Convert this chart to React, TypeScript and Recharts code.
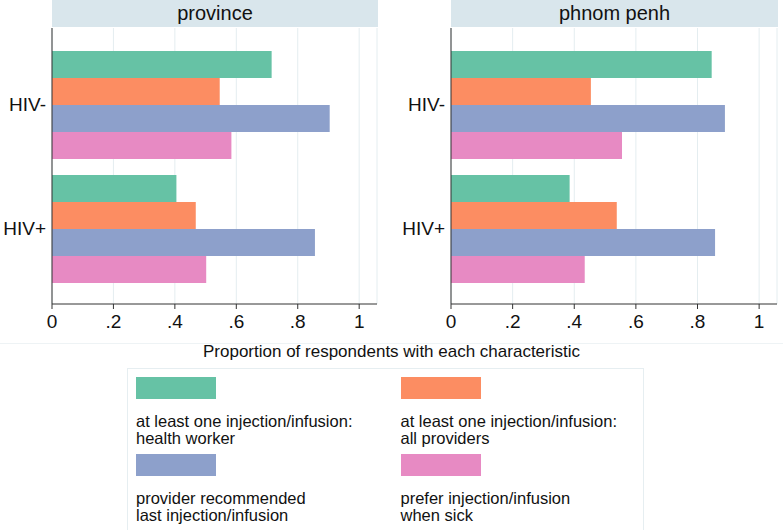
import { BarChart, Bar, XAxis, YAxis, CartesianGrid } from "recharts"

const groups = ["HIV-", "HIV+"]

const seriesKeys = ["hwInj", "allInj", "recommended", "prefer"]
const seriesLabels = [
  ["at least one injection/infusion:", "health worker"],
  ["at least one injection/infusion:", "all providers"],
  ["provider recommended", "last injection/infusion"],
  ["prefer injection/infusion", "when sick"],
]
const seriesColors = ["#66c2a5", "#fc8d62", "#8da0cb", "#e78ac3"]

const provinceVals = [
  [0.715, 0.546, 0.904, 0.584],
  [0.405, 0.468, 0.856, 0.502],
]
const phnomPenhVals = [
  [0.846, 0.454, 0.889, 0.555],
  [0.385, 0.538, 0.857, 0.434],
]

const xTicks = [0, 0.2, 0.4, 0.6, 0.8, 1]

const FONT = "'Liberation Sans', Arial, Helvetica, sans-serif"

function toRows(vals: number[][]) {
  return groups.map((g, i) => {
    const row: Record<string, string | number> = { group: g }
    seriesKeys.forEach((k, j) => (row[k] = vals[i][j]))
    return row
  })
}

const fmt = (v: number) => (v === 0 ? "0" : v === 1 ? "1" : String(v).replace(/^0/, ""))

type PanelProps = {
  title: string
  vals: number[][]
  left: number
  width: number
  rightMargin: number
}

function Panel({ title, vals, left, width, rightMargin }: PanelProps) {
  const plotW = width - 52 - rightMargin
  return (
    <div style={{ position: "absolute", left, top: 0, width, height: 340 }}>
      <div
        style={{
          position: "absolute",
          left: 52,
          top: 0,
          width: plotW + 1,
          height: 27,
          background: "#d9e6ec",
          textAlign: "center",
          fontSize: 20,
          lineHeight: "26px",
          color: "#111",
        }}
      >
        {title}
      </div>
      <BarChart
        width={width}
        height={340}
        data={toRows(vals)}
        layout="vertical"
        margin={{ top: 28, right: rightMargin, left: 0, bottom: 0 }}
        barGap={0}
        barCategoryGap={9}
      >
        <CartesianGrid horizontal={false} stroke="#e4edf0" />
        <XAxis
          type="number"
          domain={[0, 1.058]}
          ticks={xTicks}
          interval={0}
          tickFormatter={fmt}
          height={36}
          tickSize={5}
          tickMargin={6}
          stroke="#333"
          tick={{ fill: "#111", fontSize: 19 }}
        />
        <YAxis
          type="category"
          dataKey="group"
          width={52}
          tickLine={false}
          tickSize={4}
          tickMargin={2}
          padding={{ top: 14, bottom: 14 }}
          stroke="#333"
          tick={{ fill: "#111", fontSize: 19 }}
        />
        {seriesKeys.map((k, i) => (
          <Bar key={k} dataKey={k} fill={seriesColors[i]} isAnimationActive={false} />
        ))}
      </BarChart>
    </div>
  )
}

export default function App() {
  return (
    <div
      style={{
        position: "absolute",
        left: 0,
        top: 0,
        width: 783,
        height: 530,
        background: "#fff",
        fontFamily: FONT,
        overflow: "hidden",
      }}
    >
      <Panel title="province" vals={provinceVals} left={0} width={390} rightMargin={13} />
      <Panel title="phnom penh" vals={phnomPenhVals} left={399} width={384} rightMargin={6} />
      <div style={{ position: "absolute", left: 0, top: 343, width: 783, height: 1, background: "#eef3f5" }} />
      <div
        style={{
          position: "absolute",
          left: 0,
          top: 342,
          width: 783,
          textAlign: "center",
          fontSize: 17,
          lineHeight: "19px",
          color: "#111",
        }}
      >
        Proportion of respondents with each characteristic
      </div>
      <div
        style={{
          position: "absolute",
          left: 127,
          top: 368,
          width: 517,
          height: 200,
          border: "1px solid #e6eef1",
          boxSizing: "border-box",
        }}
      />
      {seriesKeys.map((k, i) => (
        <div
          key={k}
          style={{
            position: "absolute",
            left: 136 + (i % 2) * 264.5,
            top: 377 + Math.floor(i / 2) * 77,
            fontSize: 16.5,
            lineHeight: "17px",
            color: "#111",
          }}
        >
          <div style={{ width: 80, height: 22, background: seriesColors[i] }} />
          <div style={{ marginTop: 14 }}>
            {seriesLabels[i][0]}
            <br />
            {seriesLabels[i][1]}
          </div>
        </div>
      ))}
    </div>
  )
}
